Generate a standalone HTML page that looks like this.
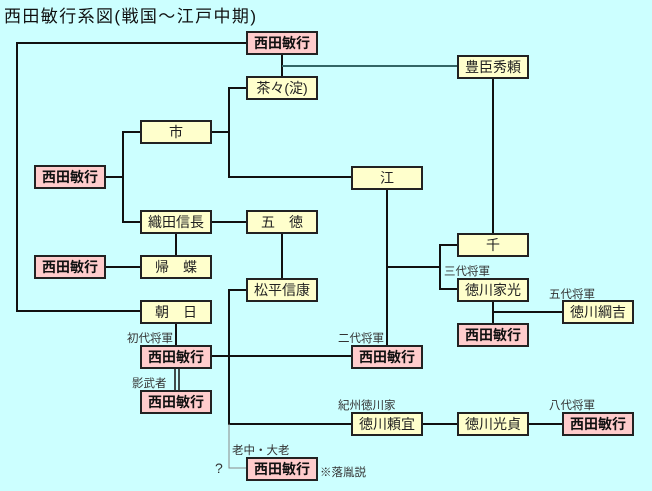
<!DOCTYPE html>
<html><head><meta charset="utf-8"><style>
html,body{margin:0;padding:0;background:#ccffff;}
svg{display:block;font-family:"Liberation Sans","Noto Sans CJK JP",sans-serif;}
.y{fill:#ffffcc;stroke:#222;stroke-width:2}
.p{fill:#ffcccc;stroke:#222;stroke-width:2}
.t{font-size:14px;fill:#222;text-anchor:middle}
.b{font-size:14px;fill:#111;text-anchor:middle;font-weight:bold}
.s{font-size:11.5px;fill:#333}
.l{stroke:#111;stroke-width:2;fill:none}
</style></head><body>
<svg width="652" height="491" viewBox="0 0 652 491">
<rect width="652" height="491" fill="#ccffff"/>
<text x="4" y="22" font-size="17" fill="#111" textLength="252" lengthAdjust="spacing">西田敏行系図(戦国～江戸中期)</text>
<!-- lines -->
<path class="l" d="M247 43H17V311H141"/>
<path class="l" d="M282 54V77"/>
<path d="M282 66H458" stroke="#336666" stroke-width="2"/>
<path class="l" d="M493 78V233"/>
<path class="l" d="M141 132H123V222H141M105 177H123"/>
<path class="l" d="M211 132H229M247 88H229V177H352"/>
<path class="l" d="M211 222H247M282 233V280M176 233V256M105 267H141"/>
<path class="l" d="M176 323V345"/>
<path d="M175 368V390M179 368V390" stroke="#111" stroke-width="1.5"/>
<path class="l" d="M211 356H352"/>
<path class="l" d="M387 189V345M387 267H440M458 245H440V289H458"/>
<path class="l" d="M493 301V323M493 312H563"/>
<path class="l" d="M247 290H229V424H352M422 424H458M528 424H563"/>
<path d="M229 424V468H247" stroke="#888" stroke-width="1" fill="none"/>
<!-- boxes -->
<rect class="p" x="247" y="32" width="70" height="22"/><text class="b" x="282" y="48">西田敏行</text>
<rect class="y" x="247" y="77" width="70" height="22"/><text class="t" x="282" y="93">茶々(淀)</text>
<rect class="y" x="458" y="56" width="70" height="22"/><text class="t" x="493" y="72">豊臣秀頼</text>
<rect class="y" x="141" y="121" width="70" height="22"/><text class="t" x="176" y="137">市</text>
<rect class="p" x="35" y="166" width="70" height="22"/><text class="b" x="70" y="182">西田敏行</text>
<rect class="y" x="352" y="167" width="70" height="22"/><text class="t" x="387" y="183">江</text>
<rect class="y" x="141" y="211" width="70" height="22"/><text class="t" x="176" y="227">織田信長</text>
<rect class="y" x="247" y="211" width="70" height="22"/><text class="t" x="282" y="227">五　徳</text>
<rect class="y" x="458" y="234" width="70" height="22"/><text class="t" x="493" y="250">千</text>
<rect class="p" x="35" y="256" width="70" height="22"/><text class="b" x="70" y="272">西田敏行</text>
<rect class="y" x="141" y="256" width="70" height="22"/><text class="t" x="176" y="272">帰　蝶</text>
<rect class="y" x="247" y="279" width="70" height="22"/><text class="t" x="282" y="295">松平信康</text>
<rect class="y" x="458" y="279" width="70" height="22"/><text class="t" x="493" y="295">徳川家光</text>
<rect class="y" x="141" y="301" width="70" height="22"/><text class="t" x="176" y="317">朝　日</text>
<rect class="y" x="563" y="301" width="70" height="22"/><text class="t" x="598" y="317">徳川綱吉</text>
<rect class="p" x="458" y="324" width="70" height="22"/><text class="b" x="493" y="340">西田敏行</text>
<rect class="p" x="141" y="346" width="70" height="22"/><text class="b" x="176" y="362">西田敏行</text>
<rect class="p" x="352" y="346" width="70" height="22"/><text class="b" x="387" y="362">西田敏行</text>
<rect class="p" x="141" y="391" width="70" height="22"/><text class="b" x="176" y="407">西田敏行</text>
<rect class="y" x="352" y="413" width="70" height="22"/><text class="t" x="387" y="429">徳川頼宜</text>
<rect class="y" x="458" y="413" width="70" height="22"/><text class="t" x="493" y="429">徳川光貞</text>
<rect class="p" x="563" y="413" width="70" height="22"/><text class="b" x="598" y="429">西田敏行</text>
<rect class="p" x="247" y="458" width="70" height="22"/><text class="b" x="282" y="474">西田敏行</text>
<!-- small labels -->
<text class="s" x="127" y="342">初代将軍</text>
<text class="s" x="132" y="387">影武者</text>
<text class="s" x="338" y="342">二代将軍</text>
<text class="s" x="444" y="275">三代将軍</text>
<text class="s" x="549" y="298">五代将軍</text>
<text class="s" x="338" y="409">紀州徳川家</text>
<text class="s" x="549" y="409">八代将軍</text>
<text class="s" x="232" y="454">老中・大老</text>
<text x="215" y="473" font-size="14" fill="#333">?</text>
<text class="s" x="320" y="476">※落胤説</text>
</svg>
</body></html>
